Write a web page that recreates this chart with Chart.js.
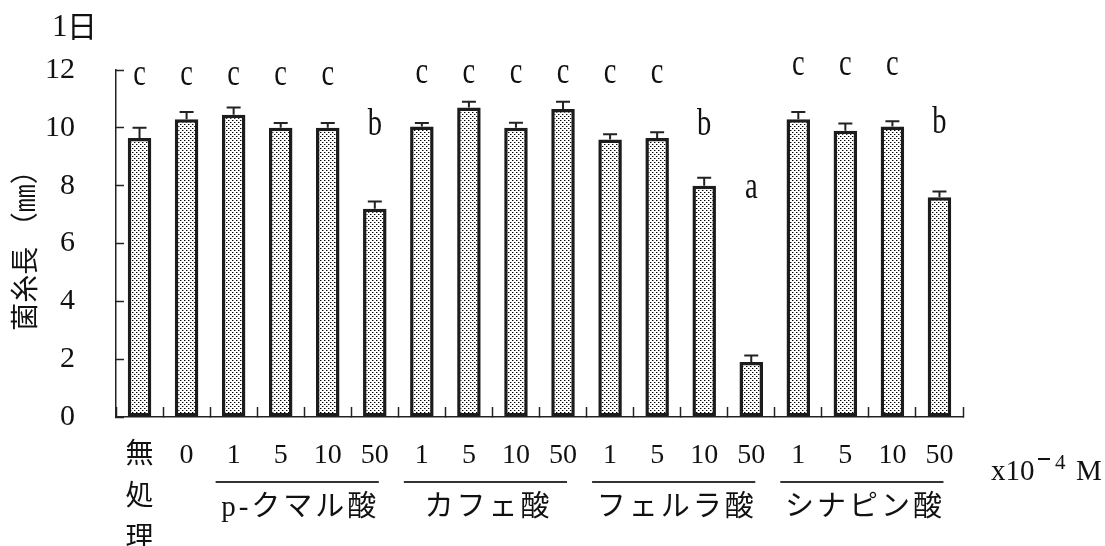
<!DOCTYPE html>
<html>
<head>
<meta charset="utf-8">
<script src="https://cdn.jsdelivr.net/npm/chart.js@4/dist/chart.umd.min.js"></script>
<style>
  html, body { margin: 0; padding: 0; background: #fff; }
  #wrap { width: 1105px; height: 546px; }
</style>
</head>
<body>
<div id="wrap"><canvas id="chart" width="1105" height="546"></canvas></div>
<script>
// Treatments (x axis): untreated, control 0, then four phenolic acids at 1/5/10/50 x10^-4 M
const categories = [['無', '処', '理'], '0', '1', '5', '10', '50', '1', '5', '10', '50', '1', '5', '10', '50', '1', '5', '10', '50'];
// Mycelial length after 1 day (mm) and standard errors
const lengths = [9.65, 10.3, 10.45, 10.0, 10.0, 7.2, 10.05, 10.7, 10.0, 10.65, 9.6, 9.65, 8.0, 1.9, 10.3, 9.9, 10.05, 7.6];
const errors  = [0.35, 0.25, 0.25, 0.17, 0.17, 0.25, 0.12, 0.2, 0.18, 0.25, 0.18, 0.2, 0.27, 0.23, 0.25, 0.25, 0.18, 0.2];
// Significance letters
const letters = ['c', 'c', 'c', 'c', 'c', 'b', 'c', 'c', 'c', 'c', 'c', 'c', 'b', 'a', 'c', 'c', 'c', 'b'];
// Acid groups spanning the concentration columns
const groupNames = ['p-クマル酸', 'カフェ酸', 'フェルラ酸', 'シナピン酸'];
const groupStart = [2, 6, 10, 14];
const groupEnd   = [5, 9, 13, 17];
// y axis range
const yMin = 0, yMax = 12, yStep = 2;

// Height (in mm) at which each letter is written
const letterLevels = [11.82, 11.82, 11.82, 11.82, 11.82, 10.1, 11.9, 11.9, 11.9, 11.9, 11.9, 11.9, 10.1, 7.92, 12.17, 12.17, 12.17, 10.15];

const INK = '#111';
const SERIF = '"Liberation Serif", "Noto Sans CJK JP"';
const CJK = '"Noto Sans CJK JP"';

// stippled fill for the bars
function dotPattern() {
  const t = document.createElement('canvas');
  t.width = 4; t.height = 4;
  const g = t.getContext('2d');
  g.fillStyle = '#fff';
  g.fillRect(0, 0, 4, 4);
  g.fillStyle = '#000';
  g.fillRect(0, 0, 1, 1);
  g.fillRect(2, 2, 1, 1);
  g.fillStyle = '#9a9a9a';
  g.fillRect(1, 0, 1, 1);
  g.fillRect(3, 2, 1, 1);
  return g.createPattern(t, 'repeat');
}

const annotate = {
  id: 'annotate',
  afterDatasetsDraw(chart) {
    const { ctx, scales: { x, y } } = chart;
    ctx.save();
    // error bars (upper half only)
    ctx.strokeStyle = '#222';
    ctx.lineWidth = 2;
    lengths.forEach((v, i) => {
      const px = x.getPixelForValue(i);
      const top = y.getPixelForValue(v);
      const up = y.getPixelForValue(v + errors[i]);
      ctx.beginPath();
      ctx.moveTo(px, top);
      ctx.lineTo(px, up);
      ctx.moveTo(px - 7, up);
      ctx.lineTo(px + 7, up);
      ctx.stroke();
    });
    // significance letters
    ctx.fillStyle = INK;
    ctx.font = '30px "Liberation Serif"';
    ctx.textAlign = 'center';
    ctx.textBaseline = 'middle';
    letters.forEach((s, i) => {
      ctx.save();
      ctx.translate(x.getPixelForValue(i), y.getPixelForValue(letterLevels[i]));
      ctx.scale(0.95, 1.25);
      ctx.fillText(s, 0, 0);
      ctx.restore();
    });
    ctx.restore();
  },
  afterDraw(chart) {
    const { ctx, scales: { x } } = chart;
    ctx.save();
    // group underlines and acid names
    ctx.strokeStyle = '#333';
    ctx.lineWidth = 2;
    ctx.fillStyle = INK;
    ctx.textAlign = 'center';
    ctx.textBaseline = 'middle';
    ctx.font = '29px ' + SERIF;
    ctx.letterSpacing = '3px';
    groupNames.forEach((name, g) => {
      const x0 = x.getPixelForValue(groupStart[g]) - 18;
      const x1 = x.getPixelForValue(groupEnd[g]) + 4;
      ctx.beginPath();
      ctx.moveTo(x0, 482);
      ctx.lineTo(x1, 482);
      ctx.stroke();
      ctx.fillText(name, (x0 + x1) / 2 + 3, 508);
    });
    ctx.letterSpacing = '0px';
    // concentration unit
    ctx.textAlign = 'left';
    ctx.font = '29px "Liberation Serif"';
    ctx.fillText('x10', 991, 472);
    ctx.fillRect(1038, 458, 12, 2);
    ctx.font = '21px "Liberation Serif"';
    ctx.fillText('4', 1055, 463);
    ctx.font = '29px "Liberation Serif"';
    ctx.fillText('M', 1076, 472);
    // day label
    ctx.font = '31px "Liberation Serif"';
    ctx.fillText('1', 52, 28);
    ctx.font = '30px ' + CJK;
    ctx.fillText('日', 67, 26);
    ctx.restore();
  }
};

new Chart(document.getElementById('chart'), {
  type: 'bar',
  data: {
    labels: categories,
    datasets: [{
      data: lengths,
      backgroundColor: dotPattern(),
      borderColor: '#1c1c1c',
      borderWidth: 3.5,
      borderSkipped: false,
      barPercentage: 0.5,
      categoryPercentage: 1
    }]
  },
  options: {
    responsive: false,
    animation: false,
    layout: { padding: { top: 70, right: 142, bottom: 0, left: 0 } },
    plugins: { legend: { display: false }, tooltip: { enabled: false } },
    scales: {
      x: {
        offset: true,
        grid: { offset: true, drawOnChartArea: false, tickLength: -10, tickColor: '#222', tickWidth: 1.5 },
        border: { display: true, color: '#222', width: 1.5 },
        ticks: {
          color: INK,
          padding: 28,
          maxRotation: 0,
          autoSkip: false,
          font: { family: SERIF, size: 28, lineHeight: 1.5 }
        },
        afterFit(scale) { scale.height = 129; }
      },
      y: {
        min: yMin,
        max: yMax,
        grid: { drawOnChartArea: false, tickLength: -8, tickColor: '#222', tickWidth: 1.5 },
        border: { display: true, color: '#222', width: 1.5 },
        ticks: {
          stepSize: yStep,
          color: INK,
          padding: 49,
          font: { family: '"Liberation Serif"', size: 30 }
        },
        title: {
          display: true,
          text: '菌糸長 （㎜）',
          color: INK,
          font: { family: CJK, size: 28, lineHeight: 1.2 },
          padding: { top: 8, bottom: 0 }
        },
        afterFit(scale) { scale.width = 116; }
      }
    }
  },
  plugins: [annotate]
});
</script>
</body>
</html>
